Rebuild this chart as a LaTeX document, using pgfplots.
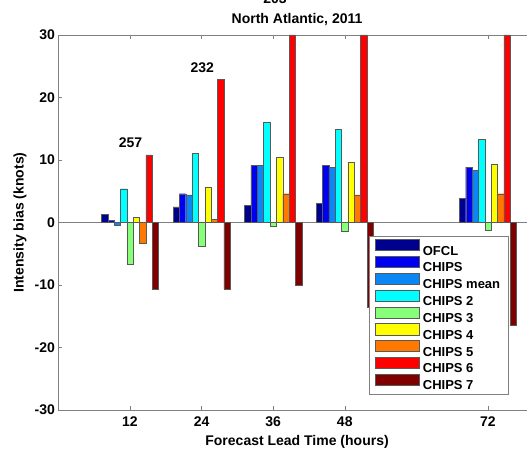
\documentclass[border=0pt]{standalone}
\usepackage{fontspec}
\setmainfont{Liberation Sans}
\usepackage{pgfplots}
\pgfplotsset{compat=1.18}
\definecolor{cOFCL}{HTML}{00008F}
\definecolor{cCHIPS}{HTML}{0000F0}
\definecolor{cMean}{HTML}{0A87F5}
\definecolor{cC2}{HTML}{00FFFF}
\definecolor{cC3}{HTML}{88FF78}
\definecolor{cC4}{HTML}{FFFF00}
\definecolor{cC5}{HTML}{FF7800}
\definecolor{cC6}{HTML}{FF0000}
\definecolor{cC7}{HTML}{800000}
\definecolor{axgray}{HTML}{808080}
\pgfplotsset{
  mybar/.style={draw=black!65, line width=0.4pt,
    legend image code/.code={\draw[##1,draw=black!65,line width=0.4pt] (0pt,-0.6pt) rectangle (44pt,10.6pt);}},
}
\begin{document}
\begin{tikzpicture}
\useasboundingbox (-58.4pt,-40pt) rectangle (468.6pt,410pt);
\begin{axis}[
  at={(0,0)}, anchor=south west,
  scale only axis, width=477.3pt, height=375pt,
  xmin=0, xmax=80, ymin=-30, ymax=30,
  xtick={12,24,36,48,72}, ytick={-30,-20,...,30},
  ybar, bar width=6.35pt,
  clip=false,
  axis line style={axgray},
  tick style={axgray, line width=0.5pt},
  major tick length=4pt,
  tick align=inside,
  /pgf/number format/assume math mode=true,
  tick label style={font=\fontsize{14}{16}\selectfont\bfseries, text=black},
  xticklabel style={yshift=-3.5pt},
  xlabel={Forecast Lead Time (hours)},
  ylabel={Intensity bias (knots)},
  label style={font=\fontsize{14}{16}\selectfont\bfseries},
  x label style={at={(axis description cs:0.5,0)}, anchor=center, yshift=-32pt},
  y label style={at={(axis description cs:-0.0805,0.5)}, anchor=center},
  title={North Atlantic, 2011},
  title style={font=\fontsize{14}{16}\selectfont\bfseries, at={(axis description cs:0.5,1)}, anchor=center, yshift=9pt},
  legend style={at={(0.6507,0.4627)}, anchor=north west, draw=axgray, fill=white,
    inner xsep=6pt, inner ysep=2.5pt, row sep=-1.2pt,
    font=\fontsize{13}{15}\selectfont\bfseries,
    nodes={inner xsep=2pt, inner ysep=0pt, text height=12.3pt, text depth=2.2pt},
    /tikz/every odd column/.append style={column sep=1.3pt}},
  legend cell align=left,
]
\draw[axgray] (axis cs:0,0) -- (axis cs:80,0);
\addplot[mybar, fill=cOFCL, bar shift=-25.4pt] coordinates {(12,1.3) (24,2.5) (36,2.7) (48,3.1) (72,3.9)};
\addplot[mybar, fill=cCHIPS, bar shift=-19.05pt] coordinates {(12,0.3) (24,4.6) (36,9.1) (48,9.1) (72,8.85)};
\addplot[mybar, fill=cMean, bar shift=-12.7pt] coordinates {(12,-0.45) (24,4.4) (36,9.1) (48,8.85) (72,8.3)};
\addplot[mybar, fill=cC2, bar shift=-6.35pt] coordinates {(12,5.4) (24,11.1) (36,16.0) (48,14.9) (72,13.3)};
\addplot[mybar, fill=cC3, bar shift=0pt] coordinates {(12,-6.7) (24,-3.8) (36,-0.65) (48,-1.4) (72,-1.3)};
\addplot[mybar, fill=cC4, bar shift=6.35pt] coordinates {(12,0.8) (24,5.7) (36,10.4) (48,9.65) (72,9.3)};
\addplot[mybar, fill=cC5, bar shift=12.7pt] coordinates {(12,-3.3) (24,0.5) (36,4.6) (48,4.4) (72,4.6)};
\addplot[mybar, fill=cC6, bar shift=19.05pt] coordinates {(12,10.8) (24,22.9) (36,30) (48,30) (72,30)};
\addplot[mybar, fill=cC7, bar shift=25.4pt] coordinates {(12,-10.6) (24,-10.6) (36,-10.0) (48,-13.5) (72,-16.5)};
\legend{OFCL, CHIPS, CHIPS mean, CHIPS 2, CHIPS 3, CHIPS 4, CHIPS 5, CHIPS 6, CHIPS 7}
\node[font=\fontsize{14}{16}\selectfont\bfseries] at (axis cs:12.1,12.7) {257};
\node[font=\fontsize{14}{16}\selectfont\bfseries] at (axis cs:24.1,24.75) {232};
\node[font=\fontsize{14}{16}\selectfont\bfseries] at (axis cs:36.3,35.8) {203};
\end{axis}
\end{tikzpicture}
\end{document}
